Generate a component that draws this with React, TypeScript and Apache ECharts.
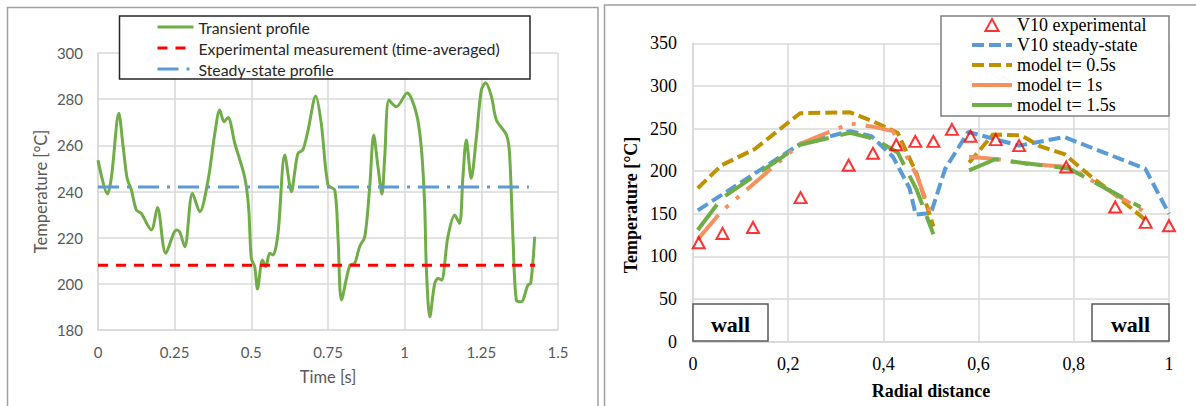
import React, { useEffect, useRef } from 'react';
import * as echarts from 'echarts';

// ---------- Left chart data ----------
const transientTime = [0.0, 0.031, 0.044, 0.068, 0.082, 0.095, 0.109, 0.125, 0.141, 0.174, 0.194, 0.221, 0.256, 0.266, 0.283, 0.308, 0.332, 0.359, 0.381, 0.397, 0.411, 0.424, 0.446, 0.478, 0.491, 0.5, 0.511, 0.52, 0.536, 0.547, 0.56, 0.571, 0.587, 0.609, 0.631, 0.641, 0.652, 0.668, 0.685, 0.71, 0.728, 0.75, 0.772, 0.783, 0.794, 0.821, 0.837, 0.853, 0.87, 0.886, 0.899, 0.913, 0.926, 0.935, 0.949, 0.973, 1.008, 1.038, 1.054, 1.065, 1.071, 1.082, 1.098, 1.109, 1.12, 1.141, 1.163, 1.179, 1.19, 1.201, 1.217, 1.234, 1.25, 1.264, 1.283, 1.299, 1.332, 1.342, 1.353, 1.364, 1.38, 1.402, 1.411, 1.424];
const transientTemp = [253.6, 238.9, 246.4, 273.9, 259.4, 245.7, 240.6, 232, 230.5, 223.3, 233.1, 213.2, 223.3, 222.6, 216.1, 239.2, 231.2, 245, 265.2, 275.3, 270.2, 272.1, 260.9, 246.4, 233.4, 211, 207.4, 197.8, 210.3, 207.4, 213.2, 212.5, 221.9, 255.8, 239.9, 247.9, 256.5, 258, 266.6, 281.4, 269.5, 242.8, 240.6, 219, 193, 208.1, 208.9, 216.1, 220.4, 242, 264.5, 250.7, 238.9, 255.1, 279.6, 276.7, 282.7, 273.9, 259.4, 234.9, 206, 185.7, 200.2, 202.4, 201.6, 220.4, 229.8, 226.2, 246.4, 262.3, 245.7, 263.7, 284, 287.1, 281.1, 271, 264.5, 256.5, 220.4, 193, 192.2, 199.5, 200.2, 220.4];
const expAvgTime = [0, 1.425];
const expAvgTemp = [208, 208];
const steadyLeftTime = [0, 1.405];
const steadyLeftTemp = [242, 242];

// ---------- Right chart data ----------
const expX = [0.012, 0.062, 0.126, 0.226, 0.327, 0.378, 0.427, 0.467, 0.505, 0.544, 0.583, 0.636, 0.685, 0.784, 0.887, 0.951, 1.0];
const expY = [116, 127, 134, 169, 207, 221, 231, 235, 235, 249, 241, 237, 230, 205, 158, 140, 136];
const steadyX = [0.01, 0.225, 0.33, 0.375, 0.42, 0.455, 0.468, 0.5, 0.53, 0.578, 0.685, 0.78, 0.95, 1.0];
const steadyY = [154, 232, 247, 241, 217, 180, 149, 151, 203, 246, 230, 240, 203, 150];
const m05aX = [0.01, 0.06, 0.13, 0.225, 0.33, 0.38, 0.43, 0.47, 0.505];
const m05aY = [180, 207, 226, 268, 269, 258, 245, 197, 135];
const m05bX = [0.58, 0.63, 0.69, 0.73, 0.78, 0.84, 0.89, 0.95];
const m05bY = [210, 243, 242, 229, 220, 192, 171, 143];
const m1aX = [0.01, 0.06, 0.225, 0.33, 0.38, 0.42, 0.47, 0.5];
const m1aY = [120, 153, 232, 256, 252, 247, 195, 150];
const m1bX = [0.58, 0.64, 0.69, 0.79, 0.95];
const m1bY = [217, 214, 209, 205, 152];
const m15aX = [0.01, 0.06, 0.225, 0.33, 0.38, 0.43, 0.47, 0.505];
const m15aY = [131, 168, 231, 245, 238, 222, 178, 126];
const m15bX = [0.58, 0.635, 0.69, 0.79, 0.94];
const m15bY = [201, 214, 210, 203, 158];

const leftNames = ['Transient profile', 'Experimental measurement (time-averaged)', 'Steady-state profile'];
const rightNames = ['V10 experimental', 'V10 steady-state', 'model t= 0.5s', 'model t= 1s', 'model t= 1.5s'];

const zip = (xs: number[], ys: number[]) => xs.map((x, i) => [x, ys[i]]);

const SANS = 'Lato';
const SERIF = 'Liberation Serif';
const GRID = '#d9d9d9';
const TRI = 'path://M5,0 L10,9 L0,9 Z';

export default function App() {
  const ref = useRef<HTMLDivElement>(null);
  useEffect(() => {
    document.body.style.margin = '0';
    const chart = echarts.init(ref.current!, null, { renderer: 'svg' });
    const lineR = (name: string, xs: number[], ys: number[], color: string, type: any) => ({
      name, type: 'line', xAxisIndex: 1, yAxisIndex: 1, data: zip(xs, ys), symbol: 'none',
      lineStyle: { color, width: 4, type, cap: 'butt' }, itemStyle: { color }, z: 2,
    });
    const hideSym = { opacity: 0 };
    const option: any = {
      animation: false,
      grid: [
        { left: 98, top: 53, width: 460, height: 277 },
        { left: 693, top: 43.3, width: 476, height: 298.4 },
      ],
      xAxis: [
        {
          gridIndex: 0, type: 'value', min: 0, max: 1.5, interval: 0.25,
          name: 'Time [s]', nameLocation: 'middle', nameGap: 38,
          nameTextStyle: { fontFamily: SANS, fontSize: 16.5, color: '#595959' },
          axisLine: { lineStyle: { color: GRID, width: 1.5 } }, axisTick: { show: false },
          axisLabel: { fontFamily: SANS, fontSize: 15, color: '#595959', margin: 14 },
          splitLine: { show: true, lineStyle: { color: GRID, width: 1.5 } },
        },
        {
          gridIndex: 1, type: 'value', min: 0, max: 1, interval: 0.2,
          name: 'Radial distance', nameLocation: 'middle', nameGap: 40,
          nameTextStyle: { fontFamily: SERIF, fontSize: 18, fontWeight: 'bold', color: '#000' },
          axisLine: { lineStyle: { color: GRID, width: 1.5 } }, axisTick: { show: false },
          axisLabel: {
            fontFamily: SERIF, fontSize: 18, color: '#000', margin: 13,
            formatter: (v: number) => String(Math.round(v * 10) / 10).replace('.', ','),
          },
          splitLine: { show: true, lineStyle: { color: GRID, width: 1.5 } },
        },
      ],
      yAxis: [
        {
          gridIndex: 0, type: 'value', min: 180, max: 300, interval: 20,
          name: 'Temperature [°C]', nameLocation: 'middle', nameGap: 49,
          nameTextStyle: { fontFamily: SANS, fontSize: 16.5, color: '#595959' },
          axisLine: { show: true, lineStyle: { color: GRID, width: 1.5 } }, axisTick: { show: false },
          axisLabel: { fontFamily: SANS, fontSize: 15, color: '#595959', margin: 15 },
          splitLine: { show: true, lineStyle: { color: GRID, width: 1.5 } },
        },
        {
          gridIndex: 1, type: 'value', min: 0, max: 350, interval: 50,
          axisLine: { show: true, lineStyle: { color: GRID, width: 1.5 } }, axisTick: { show: false },
          axisLabel: { fontFamily: SERIF, fontSize: 18, color: '#000', margin: 16 },
          splitLine: { show: true, lineStyle: { color: GRID, width: 1.5 } },
        },
      ],
      legend: [
        {
          orient: 'vertical', left: 156, top: 19, padding: 0, itemWidth: 36, itemHeight: 14, itemGap: 5,
          data: leftNames.map((n) => ({ name: n, itemStyle: hideSym, lineStyle: { width: 3 } })),
          textStyle: { fontFamily: SANS, fontSize: 15.8, color: '#262626', lineHeight: 16 },
          z: 6,
        },
        {
          orient: 'vertical', left: 970, top: 16, padding: 0, itemWidth: 40, itemHeight: 12, itemGap: 2,
          data: [
            { name: rightNames[0], icon: TRI, itemStyle: { color: 'rgba(255,255,255,0)', borderColor: '#FF0000', borderWidth: 2 } },
            { name: rightNames[1], itemStyle: hideSym, lineStyle: { width: 4 } },
            { name: rightNames[2], itemStyle: hideSym, lineStyle: { width: 4 } },
            { name: rightNames[3], itemStyle: hideSym, lineStyle: { type: 'solid', width: 4 } },
            { name: rightNames[4], itemStyle: hideSym, lineStyle: { type: 'solid', width: 4 } },
          ],
          textStyle: { fontFamily: SERIF, fontSize: 18, color: '#000', lineHeight: 18 },
          z: 6,
        },
      ],
      graphic: [
        { type: 'rect', z: 1, shape: { x: 7.5, y: 7.5, width: 590.5, height: 420 }, style: { fill: 'none', stroke: '#a0a0a0', lineWidth: 1.5 } },
        { type: 'rect', z: 1, shape: { x: 604.5, y: 5, width: 620, height: 420 }, style: { fill: 'none', stroke: '#a0a0a0', lineWidth: 1.5 } },
        { type: 'rect', z: 3, shape: { x: 119.5, y: 16, width: 410.5, height: 63 }, style: { fill: '#fff', stroke: '#262626', lineWidth: 1.5 } },
        { type: 'rect', z: 3, shape: { x: 941, y: 16, width: 228, height: 100 }, style: { fill: '#fff', stroke: '#7f7f7f', lineWidth: 1.5 } },
        { type: 'rect', z: 3, shape: { x: 693, y: 304, width: 75, height: 37 }, style: { fill: '#fff', stroke: '#595959', lineWidth: 1.5 } },
        { type: 'rect', z: 3, shape: { x: 1092, y: 304, width: 77, height: 37 }, style: { fill: '#fff', stroke: '#595959', lineWidth: 1.5 } },
        { type: 'text', z: 5, x: 730.5, y: 324, style: { text: 'wall', fontFamily: SERIF, fontSize: 22, fontWeight: 'bold', fill: '#000', align: 'center', verticalAlign: 'middle' } },
        { type: 'text', z: 5, x: 1130.5, y: 324, style: { text: 'wall', fontFamily: SERIF, fontSize: 22, fontWeight: 'bold', fill: '#000', align: 'center', verticalAlign: 'middle' } },
        { type: 'text', z: 5, x: 631, y: 205, rotation: Math.PI / 2, style: { text: 'Temperature [°C]', fontFamily: SERIF, fontSize: 18, fontWeight: 'bold', fill: '#000', align: 'center', verticalAlign: 'middle' } },
      ],
      series: [
        {
          name: leftNames[0], type: 'line', xAxisIndex: 0, yAxisIndex: 0, smooth: 0.3, symbol: 'none',
          data: zip(transientTime, transientTemp),
          lineStyle: { color: '#70AD47', width: 3 }, itemStyle: { color: '#70AD47' },
        },
        {
          name: leftNames[1], type: 'line', xAxisIndex: 0, yAxisIndex: 0, symbol: 'none',
          data: zip(expAvgTime, expAvgTemp),
          lineStyle: { color: '#FF0000', width: 3, type: [10, 8] }, itemStyle: { color: '#FF0000' },
        },
        {
          name: leftNames[2], type: 'line', xAxisIndex: 0, yAxisIndex: 0, symbol: 'none',
          data: zip(steadyLeftTime, steadyLeftTemp),
          lineStyle: { color: '#5B9BD5', width: 3, type: [21, 8, 3, 8] }, itemStyle: { color: '#5B9BD5' },
        },
        lineR(rightNames[1], steadyX, steadyY, '#5B9BD5', [12, 5]),
        lineR(rightNames[2], m05aX, m05aY, '#BF9000', [12, 5]),
        lineR(rightNames[2], m05bX, m05bY, '#BF9000', [12, 5]),
        lineR(rightNames[3], m1aX, m1aY, '#F4915F', [32, 10, 4, 10, 4, 10]),
        lineR(rightNames[3], m1bX, m1bY, '#F4915F', [32, 10, 4, 10, 4, 10]),
        lineR(rightNames[4], m15aX, m15aY, '#70AD47', [32, 12]),
        lineR(rightNames[4], m15bX, m15bY, '#70AD47', [32, 12]),
        {
          name: rightNames[0], type: 'scatter', xAxisIndex: 1, yAxisIndex: 1, symbol: 'triangle', symbolSize: [12, 11],
          data: zip(expX, expY), z: 4,
          itemStyle: { color: 'rgba(255,255,255,0)', borderColor: '#FF0000', borderWidth: 2 },
        },
      ],
    };
    chart.setOption(option);
    return () => chart.dispose();
  }, []);
  return <div ref={ref} style={{ width: 1196, height: 406 }} />;
}
